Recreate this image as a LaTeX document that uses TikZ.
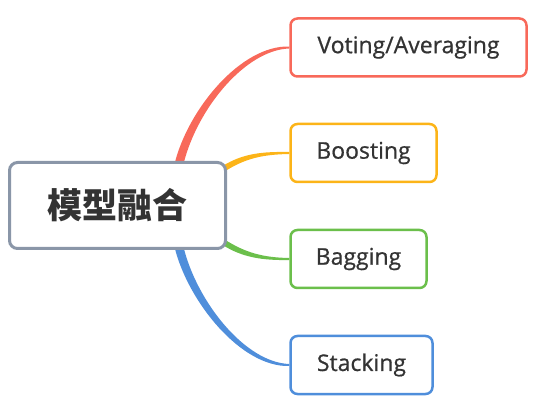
\documentclass[tikz,border=0pt]{standalone}
\usepackage{fontspec}
\setmainfont{Open Sans}[UprightFeatures={FakeBold=0.7}]
\newfontfamily\cjkfont{Noto Sans CJK SC}
\usetikzlibrary{calc,backgrounds}
\definecolor{cred}{HTML}{F8695A}
\definecolor{cyellow}{HTML}{FCB418}
\definecolor{cgreen}{HTML}{6BBF4B}
\definecolor{cblue}{HTML}{4F8EDB}
\definecolor{cgray}{HTML}{8A96A8}
\definecolor{ctext}{HTML}{333333}
\begin{document}
\begin{tikzpicture}[x=1pt,y=-1pt,
  rootbox/.style={draw=cgray,line width=3pt,fill=white,rounded corners=8pt,minimum width=216pt,minimum height=86pt,inner sep=0pt,text=ctext,font=\cjkfont\bfseries\fontsize{35}{40}\selectfont},
  leaf/.style={line width=2.5pt,fill=white,rounded corners=7pt,minimum height=58pt,inner sep=0pt,text=ctext,font=\fontsize{23}{27}\selectfont}]
\useasboundingbox (0,0) rectangle (544,406);
\node[rootbox] (main) at (117.5,205.5) {模型融合};
\node[leaf,draw=cred,minimum width=236pt] (vote) at (408.5,47.5) {Voting/Averaging};
\node[leaf,draw=cyellow,minimum width=146pt] (boost) at (363.5,153) {Boosting};
\node[leaf,draw=cgreen,minimum width=136pt] (bag) at (358.5,259) {Bagging};
\node[leaf,draw=cblue,minimum width=142pt] (stack) at (361.5,365) {Stacking};
\begin{scope}[on background layer]
\coordinate (rs) at ([xshift=61.5pt,yshift=-3pt]main.north);
\coordinate (bs) at ([xshift=61.5pt,yshift=3pt]main.south);
\coordinate (ys) at ([xshift=-3pt,yshift=37pt]main.east);
\coordinate (gs) at ([xshift=-3pt,yshift=-37pt]main.east);
% red
\fill[cred] ($(rs)+(-4.5,0)$) .. controls ($(rs)+(9,-55)$) and ($(vote.west)+(-48,-2.5)$) .. ($(vote.west)+(0,-1)$)
  -- ($(vote.west)+(0,1)$) .. controls ($(vote.west)+(-44,2.5)$) and ($(rs)+(18,-55)$) .. ($(rs)+(4.5,0)$) -- cycle;
% blue
\fill[cblue] ($(bs)+(-4.5,0)$) .. controls ($(bs)+(9,55)$) and ($(stack.west)+(-48,2.5)$) .. ($(stack.west)+(0,1)$)
  -- ($(stack.west)+(0,-1)$) .. controls ($(stack.west)+(-44,-2.5)$) and ($(bs)+(18,55)$) .. ($(bs)+(4.5,0)$) -- cycle;
% yellow
\fill[cyellow] ($(ys)+(-1.5,-2.4)$) .. controls ($(ys)+(18.5,-15)$) and ($(boost.west)+(-27,-1.5)$) .. ($(boost.west)+(0,-1)$)
  -- ($(boost.west)+(0,1)$) .. controls ($(boost.west)+(-27,1.5)$) and ($(ys)+(21.5,-10)$) .. ($(ys)+(1.5,2.4)$) -- cycle;
% green
\fill[cgreen] ($(gs)+(-1.5,2.4)$) .. controls ($(gs)+(18.5,15)$) and ($(bag.west)+(-27,1.5)$) .. ($(bag.west)+(0,1)$)
  -- ($(bag.west)+(0,-1)$) .. controls ($(bag.west)+(-27,-1.5)$) and ($(gs)+(21.5,10)$) .. ($(gs)+(1.5,-2.4)$) -- cycle;
\end{scope}
\end{tikzpicture}
\end{document}
